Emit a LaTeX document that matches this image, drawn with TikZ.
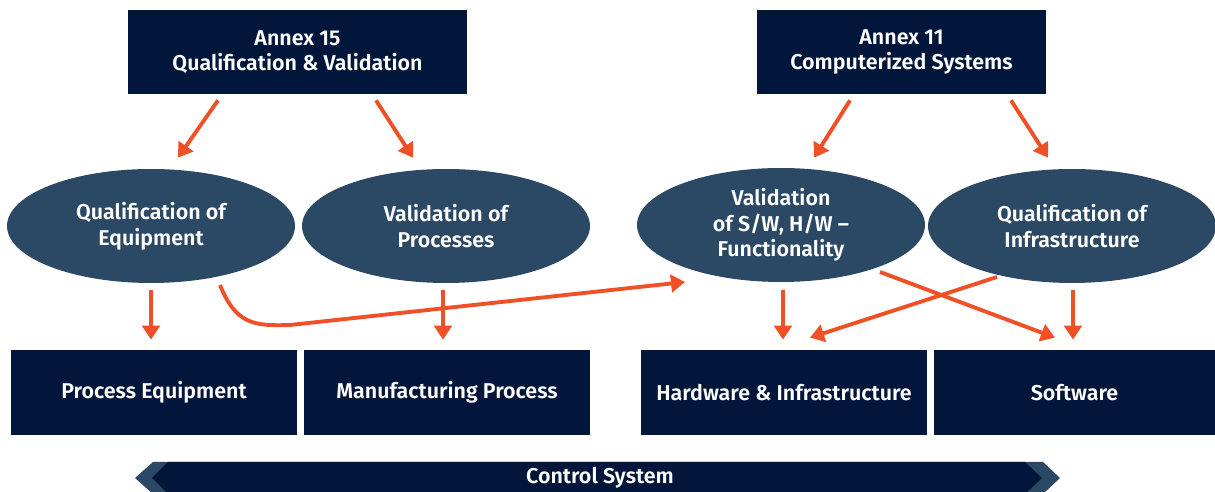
\documentclass[tikz,border=0pt]{standalone}
\usepackage{fontspec}
\setmainfont{Fira Sans}[BoldFont={* SemiBold}]
\usetikzlibrary{shapes.geometric,arrows.meta,calc}
\definecolor{navy}{RGB}{1,22,58}
\definecolor{slate}{RGB}{43,72,101}
\definecolor{flame}{RGB}{240,80,38}
\begin{document}
\begin{tikzpicture}[x=0.02cm,y=-0.02cm,
        lbl/.style={text=white,font=\bfseries\fontsize{12.2}{14.6}\selectfont,align=center,inner sep=0pt},
        box/.style={lbl,fill=navy,minimum width=5.72cm,minimum height=1.7cm},
        oval/.style={lbl,ellipse,fill=slate,minimum width=5.76cm,minimum height=2.28cm},
        arr/.style={-{Triangle[length=8pt,width=10pt]},draw=flame,line width=2.2pt}]
        \useasboundingbox (0,0) rectangle (1215,492);
        \node[box,minimum width=6.78cm,minimum height=1.68cm] (annexq) at (297.5,52) {Annex 15\\Qualification \& Validation};
        \node[box,minimum width=5.78cm,minimum height=1.68cm] (annexc) at (901.5,52) {Annex 11\\Computerized Systems};
        \node[oval] (qeq) at (151,226) {Qualification of\\Equipment};
        \node[oval] (vproc) at (446,226) {Validation of\\Processes};
        \node[oval] (vsw) at (781,225) {Validation\\of S/W, H/W --\\Functionality};
        \node[oval] (qinf) at (1072,226) {Qualification of\\Infrastructure};
        \node[box] (peq) at (154,392.5) {Process Equipment};
        \node[box] (mproc) at (447,392.5) {Manufacturing Process};
        \node[box] (hwinf) at (784,392.5) {Hardware \& Infrastructure};
        \node[box,minimum width=5.62cm] (sw) at (1074.5,392.5) {Software};
        \draw[arr] ($(annexq.south)+(-79.5,6)$) -- ($(qeq.north)+(27,-11)$);
        \draw[arr] ($(annexq.south)+(78.5,6)$) -- ($(vproc.north)+(-33,-11)$);
        \draw[arr] ($(annexc.south)+(-51.5,6)$) -- ($(vsw.north)+(33,-10)$);
        \draw[arr] ($(annexc.south)+(109.5,6)$) -- ($(qinf.north)+(-24,-11)$);
        \draw[arr] ($(qeq.south)+(0,7)$) -- ($(qeq.south |- peq.north)+(0,-10)$);
        \draw[arr] ($(vproc.south)+(-3,7)$) -- ($(vproc.south |- mproc.north)+(-3,-10)$);
        \draw[arr] ($(vsw.south)+(2,8)$) -- ($(vsw.south |- hwinf.north)+(2,-10)$);
        \draw[arr] ($(qinf.south)+(1,7)$) -- ($(qinf.south |- sw.north)+(1,-10)$);
        \draw[arr] ($(qeq.center)+(69,59)$) .. controls (236,325) and (255,326) .. (290,325) -- ($(vsw.center)+(-96,57)$);
        \draw[arr] ($(vsw.center)+(99,47)$) -- ($(sw.north)+(-19.5,-12)$);
        \draw[arr] ($(qinf.center)+(-75,51)$) -- ($(hwinf.north)+(26,-12)$);
        \fill[slate] (135,478) -- (153,462) -- (1043,462) -- (1060,478) -- (1043,494) -- (153,494) -- cycle;
        \fill[navy] (152,478) -- (168,462) -- (1025,462) -- (1042,478) -- (1025,494) -- (168,494) -- cycle;
        \node[lbl] (ctrl) at (600,478) {Control System};
\end{tikzpicture}
\end{document}
